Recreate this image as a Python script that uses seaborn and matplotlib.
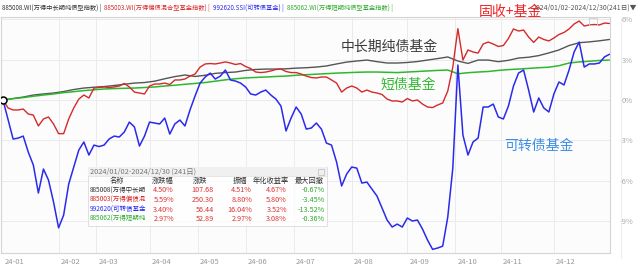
import numpy as np
import pandas as pd
import matplotlib
matplotlib.use("Agg")
import matplotlib.pyplot as plt
import matplotlib.transforms as mtransforms
from matplotlib.patches import Rectangle
import seaborn as sns

sns.set_style("white")
FONT = ["Noto Sans CJK SC", "DejaVu Sans"]
plt.rcParams["font.family"] = FONT
plt.rcParams["axes.unicode_minus"] = False

# ---------------- data (percent change since 2024/01/02) ----------------
# convertible bond fund index, every 2nd trading day
blue_vals = [
    0, -1.45, -2.9, -2.83, -2.68, -3.87, -4.83, -6.91, -5.13, -5.95,
    -7.58, -9.5, -8.55, -6.25, -4.98, -3.72, -3.12, -4.09, -3.35, -3.46,
    -3.35, -2.9, -2.68, -2.75, -2.38, -1.64, -2.0, -3.42, -2.68, -1.64,
    -1.71, -1.78, -1.34, -2.53, -1.78, -1.49, -1.93, -0.74, 0.3, 1.26,
    1.71, 2.0, 1.56, 1.78, 2.23, 1.49, 1.41, 1.26, 0.97, 0.45,
    0.37, 0.59, 0.74, 0.37, 0.07, -0.45, -2.3, -1.34, -0.52, -1.04,
    -2.16, -2.08, -1.71, -2.16, -3.2, -3.35, -4.61, -6.39, -5.5, -4.98,
    -5.06, -6.17, -6.1, -6.62, -7.14, -8.03, -8.92, -9.44, -9.22, -9.44,
    -8.77, -8.99, -8.92, -9.59, -10.41, -11.1, -11.0, -10.86, -8.7, -5.06,
    2.6, -2.6, -4.09, -3.12, -2.83, -0.52, -0.52, -0.3, -1.26, -1.41,
    -0.45, 1.04, 2.0, 2.23, 0.74, -0.89, 0.15, -0.59, -0.89, 0.45,
    1.34, 1.12, 2.23, 3.57, 4.31, 2.45, 2.68, 2.68, 2.75, 3.2,
    3.4,
]
# mixed bond ("fixed income +") fund index, every 2nd trading day
red_vals = [
    0, -0.59, -0.74, -0.74, -0.67, -1.04, -1.12, -1.93, -1.41, -1.26,
    -1.78, -2.5, -2.5, -1.41, -0.59, 0.07, 0.37, 0.15, 0.89, 0.93,
    0.97, 0.93, 0.97, 1.04, 1.23, 0.97, 0.59, 0.52, 0.45, 1.04,
    1.19, 1.19, 1.26, 1.15, 1.49, 1.49, 1.56, 1.78, 1.93, 2.45,
    2.68, 2.71, 2.68, 2.75, 2.83, 2.75, 2.64, 2.71, 2.49, 2.34,
    2.08, 2.04, 2.08, 2.16, 2.27, 2.3, 2.12, 2.04, 2.04, 1.93,
    1.78, 1.67, 1.64, 1.71, 1.71, 1.49, 1.26, 0.59, 0.89, 1.04,
    0.89, 0.59, 0.74, 0.59, 0.52, 0.41, 0.07, -0.07, -0.07, -0.15,
    0.11, -0.07, 0, -0.3, -0.52, -0.56, -0.37, -0.22, 0.67, 2.45,
    5.3, 2.97, 3.72, 3.57, 3.49, 4.16, 4.31, 4.16, 3.98, 4.05,
    4.57, 5.28, 5.13, 5.2, 4.68, 4.28, 4.68, 4.5, 4.39, 4.61,
    4.87, 5.02, 5.28, 5.65, 5.87, 5.5, 5.58, 5.61, 5.58, 5.72,
    5.69,
]
# medium/long-term pure bond fund index, every 4th trading day
gray_vals = [
    0, 0.11, 0.22, 0.37, 0.45, 0.52, 0.63, 0.78, 0.89, 0.95,
    1.0, 1.08, 1.17, 1.26, 1.3, 1.4, 1.58, 1.74, 1.86, 1.75,
    1.84, 1.98, 2.04, 2.08, 2.2, 2.27, 2.3, 2.3, 2.32, 2.37,
    2.4, 2.45, 2.53, 2.68, 2.82, 2.9, 2.97, 2.85, 2.75, 2.75,
    2.79, 2.86, 2.97, 3.08, 3.2, 2.9, 2.72, 2.97, 2.97, 2.85,
    2.95, 3.12, 3.18, 3.3, 3.5, 3.72, 4.05, 4.26, 4.32, 4.4,
    4.5,
]
# short-term pure bond fund index, every 4th trading day
green_vals = [
    0, 0.1, 0.18, 0.28, 0.37, 0.45, 0.55, 0.62, 0.7, 0.76,
    0.82, 0.85, 0.87, 0.89, 0.93, 0.97, 1.04, 1.1, 1.17, 1.23,
    1.3, 1.4, 1.5, 1.58, 1.64, 1.68, 1.71, 1.75, 1.78, 1.84,
    1.88, 1.92, 1.96, 2.0, 2.03, 2.06, 2.08, 2.08, 2.06, 2.04,
    2.08, 2.12, 2.16, 2.2, 2.23, 1.95, 2.03, 2.08, 2.12, 2.2,
    2.26, 2.3, 2.35, 2.4, 2.44, 2.55, 2.75, 2.83, 2.88, 2.94,
    2.97,
]

month_labels = ["24-01", "24-02", "24-03", "24-04", "24-05", "24-06",
                "24-07", "24-08", "24-09", "24-10", "24-11", "24-12"]
month_start_day = [0, 22, 37, 58, 77, 96, 115, 138, 160, 179, 197, 218]
y_ticks = [-9, -6, -3, 0, 3, 6]

header_texts = ["885008.WI(万得中长期纯债型指数) |", "885003.WI(万得偏债混合型基金指数) |",
                "992620.SSI(可转债基金) |", "885062.WI(万得短期纯债型基金指数) |"]
range_text = "2024/01/02-2024/12/30(241日)▼"

tbl_title = "2024/01/02-2024/12/30 (241日)"
tbl_cols = ["名称", "涨跌幅", "涨跌", "振幅", "年化收益率", "最大回撤"]
tbl_names = ["885008(万得中长期", "885003(万得偏债混", "992620(可转债基金", "885062(万得短期纯"]
tbl_chg_pct = ["4.50%", "5.59%", "3.40%", "2.97%"]
tbl_chg = ["107.68", "250.30", "56.44", "52.89"]
tbl_amp = ["4.51%", "8.80%", "16.04%", "2.97%"]
tbl_ann = ["4.67%", "5.80%", "3.52%", "3.08%"]
tbl_mdd = ["-0.67%", "-3.45%", "-13.52%", "-0.36%"]

notes = ["固收+基金", "中长期纯债基金", "短债基金", "可转债基金"]

# ---------------- styling ----------------
C_GRAY, C_RED, C_BLUE, C_GREEN = "#555555", "#d42a2a", "#2a2aee", "#2eb82e"
name_colors = ["#333333", "#d42a2a", "#2a2aee", "#2eaa2e"]
note_colors = ["#f02424", "#3a3a3a", "#33b833", "#3a8ee6"]

W, H = 640, 268
fig = plt.figure(figsize=(W / 100, H / 100), dpi=100)
fig.patch.set_facecolor("white")


def fx(px):
    return px / W


def fy(py):
    return 1 - py / H


ax = fig.add_axes([fx(1), fy(253), (610 - 1) / W, (253 - 17) / H])
ax.set_facecolor("#fcfcfc")

df_list = []
for name, vals, step in [("gray", gray_vals, 4), ("green", green_vals, 4),
                         ("red", red_vals, 2), ("blue", blue_vals, 2)]:
    df_list.append(pd.DataFrame({"day": np.arange(len(vals)) * step,
                                 "pct": vals, "series": name}))
data = pd.concat(df_list, ignore_index=True)

for name, col, lw in [("gray", C_GRAY, 1.0), ("green", C_GREEN, 1.1),
                      ("red", C_RED, 1.0), ("blue", C_BLUE, 1.1)]:
    sub = data[data["series"] == name]
    sns.lineplot(data=sub, x="day", y="pct", ax=ax, color=col, linewidth=lw,
                 legend=False, estimator=None)

ax.plot([0], [0], marker="o", markersize=5, markerfacecolor="white",
        markeredgecolor="black", markeredgewidth=1.1, zorder=10)

ax.set_xlim(-0.79, 240.2)
ax.set_ylim(-11.37, 6.17)
ax.set_xlabel("")
ax.set_ylabel("")

ax.set_xticks(month_start_day[1:])
ax.set_xticklabels([])
ax.set_yticks(y_ticks)
ax.yaxis.tick_right()
ax.set_yticklabels([f"{v}%" for v in y_ticks], color="#aaaaaa", fontsize=5.5, ha="right")
ax.tick_params(axis="y", length=0, pad=16.5)
ax.tick_params(axis="x", length=0)
ax.grid(True, color="#ebebeb", linewidth=0.7)
for s in ax.spines.values():
    s.set_color("#d4d4d4")
    s.set_linewidth(0.8)

# month labels, left aligned just right of each gridline
off = mtransforms.offset_copy(ax.get_xaxis_transform(), fig=fig, x=2, y=0, units="dots")
for d, lab in zip(month_start_day, month_labels):
    ax.text(d, -9 / 236, lab, transform=off, ha="left", va="center",
            fontsize=5.5, color="#999999", clip_on=False)

# faint outer vertical line on the right
fig.add_artist(plt.Line2D([fx(621), fx(621)], [fy(17), fy(258)], color="#eeeeee", lw=0.8))
# small icon top right
fig.add_artist(Rectangle((fx(589), fy(25)), 8 / W, 7 / H, facecolor="none",
                         edgecolor="#cccccc", lw=0.6))

# ---------------- header ----------------
fig.canvas.draw()
renderer = fig.canvas.get_renderer()
xpos = 2
for txt, col in zip(header_texts, name_colors):
    t = fig.text(fx(xpos), fy(8), txt, color=col, fontsize=4.5, ha="left", va="center")
    bb = t.get_window_extent(renderer)
    xpos += bb.width + 3
fig.text(fx(637), fy(8), range_text, color="#555555", fontsize=4.9, ha="right", va="center")

# ---------------- annotations ----------------
note_pos = [(510, 12), (389, 47), (408, 85), (539, 146)]
for txt, col, (px, py) in zip(notes, note_colors, note_pos):
    fig.text(fx(px), fy(py), txt, color=col, fontsize=10, ha="center", va="center")

# ---------------- table ----------------
tx0, tx1, ty0, ty1 = 88, 327, 167, 226
fig.add_artist(Rectangle((fx(tx0), fy(ty1)), (tx1 - tx0) / W, (ty1 - ty0) / H,
                         facecolor="white", alpha=0.75, edgecolor="#cfcfcf", lw=0.6, zorder=5))
fig.add_artist(Rectangle((fx(tx0), fy(176)), (tx1 - tx0) / W, 9 / H,
                         facecolor="#f0f0f0", edgecolor="none", zorder=5))
fig.add_artist(plt.Line2D([fx(tx0), fx(tx1)], [fy(176), fy(176)], color="#dddddd", lw=0.5, zorder=6))
fig.add_artist(Rectangle((fx(318), fy(175)), 6 / W, 6 / H, facecolor="none",
                         edgecolor="#bbbbbb", lw=0.5, zorder=6))
fig.text(fx(90), fy(171.5), tbl_title, color="#777777", fontsize=5.3, ha="left", va="center", zorder=7)

col_centers = [117, 163, 200, 240, 271, 309]
for c, cx in zip(tbl_cols, col_centers):
    fig.text(fx(cx), fy(181), c, color="#333333", fontsize=5.2, ha="center", va="center", zorder=7)

row_y = [190.5, 200, 209.5, 219]
right_edges = [174, 214, 252, 287, 325]
for r, ry in enumerate(row_y):
    fig.text(fx(90), fy(ry), tbl_names[r], color=name_colors[r], fontsize=4.7,
             ha="left", va="center", zorder=7)
    vals = [tbl_chg_pct[r], tbl_chg[r], tbl_amp[r], tbl_ann[r], tbl_mdd[r]]
    for k, (v, rx) in enumerate(zip(vals, right_edges)):
        col = "#2eaa2e" if k == 4 else "#e03030"
        fig.text(fx(rx), fy(ry), v, color=col, fontsize=5.2, ha="right", va="center", zorder=7)

fig.savefig("out.png", dpi=100, facecolor="white")
